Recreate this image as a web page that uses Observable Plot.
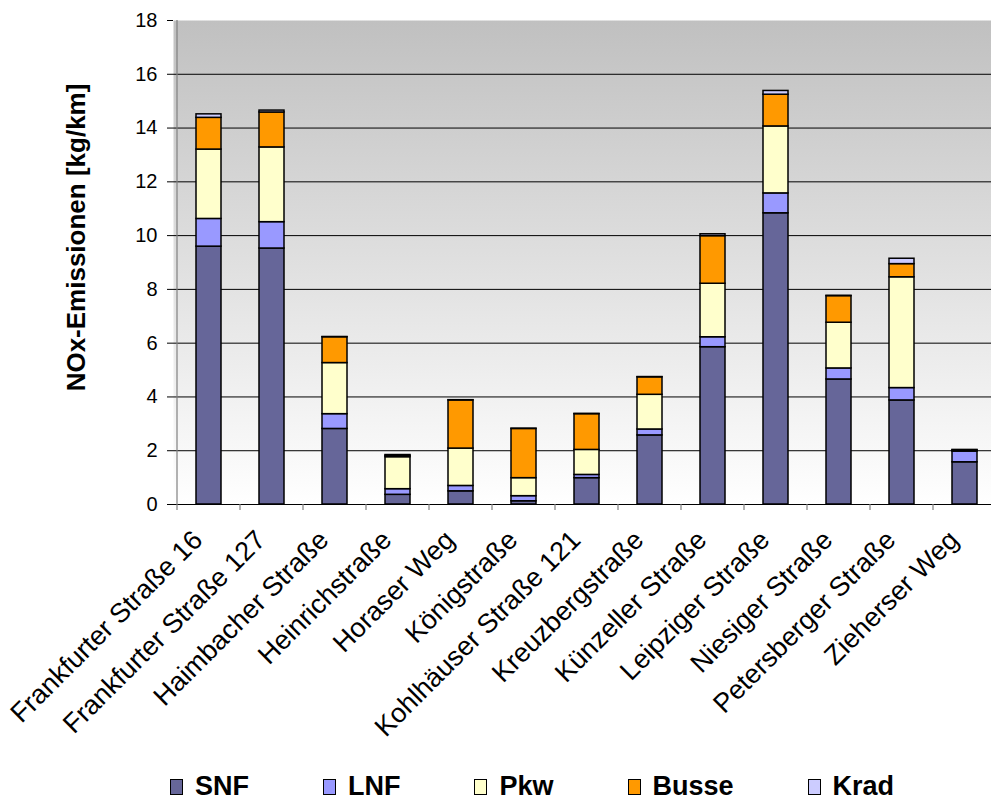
<!DOCTYPE html>
<html><head><meta charset="utf-8">
<script src="https://cdn.jsdelivr.net/npm/d3@7"></script>
<script src="https://cdn.jsdelivr.net/npm/@observablehq/plot@0.6"></script>
<style>
html,body{margin:0;padding:0;overflow:hidden;background:#fff;width:991px;height:800px}
#chart{position:absolute;left:0;top:0}
#legend{position:absolute;left:170px;top:771px;display:flex;align-items:center;font:bold 27px "Liberation Sans",Arial,sans-serif;color:#000}
.item{display:flex;align-items:center;margin-right:74px}
.sw{width:11px;height:14px;border:1.5px solid #000;margin-right:12px}
</style></head><body><div id="chart"></div><div id="legend"></div>
<script>
const categories = ["Frankfurter Straße 16","Frankfurter Straße 127","Haimbacher Straße","Heinrichstraße","Horaser Weg","Königstraße","Kohlhäuser Straße 121","Kreuzbergstraße","Künzeller Straße","Leipziger Straße","Niesiger Straße","Petersberger Straße","Zieherser Weg"];
const series = ["SNF","LNF","Pkw","Busse","Krad"];
const colors = ["#666699","#9999FF","#FFFFCC","#FF9900","#CCCCFF"];
const SNF   = [9.59, 9.52, 2.81, 0.36, 0.49, 0.12, 0.98, 2.57, 5.85, 10.83, 4.65, 3.87, 1.57];
const LNF   = [1.03, 0.98, 0.55, 0.21, 0.20, 0.19, 0.12, 0.22, 0.37, 0.74, 0.41, 0.46, 0.40];
const Pkw   = [2.58, 2.78, 1.90, 1.19, 1.39, 0.67, 0.93, 1.29, 1.99, 2.49, 1.70, 4.12, 0.02];
const Busse = [1.18, 1.30, 0.96, 0.05, 1.79, 1.83, 1.33, 0.65, 1.77, 1.18, 0.99, 0.49, 0.02];
const Krad  = [0.13, 0.07, 0.01, 0.03, 0.01, 0.01, 0.01, 0.01, 0.07, 0.14, 0.01, 0.20, 0.02];
const yTicks = [0,2,4,6,8,10,12,14,16,18];
const yLabel = "NOx-Emissionen [kg/km]";

const valuesBySeries = {SNF, LNF, Pkw, Busse, Krad};
const rows = [];
categories.forEach((street, i) => {
  series.forEach(type => rows.push({street, type, value: valuesBySeries[type][i]}));
});

const font = '"Liberation Sans", Arial, sans-serif';
const plot = Plot.plot({
  width: 1000, height: 770,
  marginLeft: 173, marginRight: 0.5, marginTop: 20, marginBottom: 266,
  style: {fontFamily: font, background: "transparent", maxWidth: "none", overflow: "visible", color: "#000"},
  x: {domain: categories, paddingInner: 0.6, paddingOuter: 0.3, label: null},
  y: {domain: [0, 18], label: null},
  color: {domain: series, range: colors},
  marks: [
    Plot.frame({fill: "url(#bggrad)", stroke: null}),
    Plot.ruleY(yTicks.filter(d => d > 0 && d < 18), {stroke: "#000", strokeWidth: 1}),
    Plot.barY(rows, {x: "street", y: "value", fill: "type", stroke: "#000", strokeWidth: 1.5, order: series}),
    Plot.ruleY([0], {stroke: "#000", strokeWidth: 1}),
    Plot.axisY(yTicks, {tickSize: 6, tickPadding: 10, fontSize: 20, stroke: "#000"}),
    Plot.axisX({tickSize: 0, tickPadding: 31, dx: -11, tickRotate: -45, fontSize: 27}),
    Plot.text([yLabel], {frameAnchor: "left", dx: -97, dy: -25, rotate: -90, fontSize: 26, fontWeight: "bold", textAnchor: "middle", fill: "#000"})
  ]
});
document.getElementById("chart").appendChild(plot);

const svg = d3.select(plot);
svg.insert("defs", ":first-child").html('<linearGradient id="bggrad" x1="0" y1="0" x2="0" y2="1"><stop offset="0" stop-color="#c0c0c0"/><stop offset="1" stop-color="#ffffff"/></linearGradient>');
const xs = plot.scale("x"), ys = plot.scale("y");
const off = (xs.step - xs.bandwidth) / 2;
const bounds = categories.map(c => xs.apply(c) - off).concat([xs.apply(categories[categories.length-1]) + xs.bandwidth + off]);
const yb = ys.apply(0), yt = ys.apply(18);
const g = svg.append("g");
g.append("line").attr("x1", bounds[0]).attr("x2", bounds[0]).attr("y1", yt).attr("y2", yb).attr("stroke", "#808080").attr("stroke-width", 1.2);
bounds.forEach(b => g.append("line").attr("x1", b).attr("x2", b).attr("y1", yb).attr("y2", yb + 6).attr("stroke", "#808080").attr("stroke-width", 1.2));

const legend = d3.select("#legend");
series.forEach((s, i) => {
  const it = legend.append("div").attr("class", "item");
  it.append("div").attr("class", "sw").style("background", colors[i]);
  it.append("span").text(s);
});
</script></body></html>
